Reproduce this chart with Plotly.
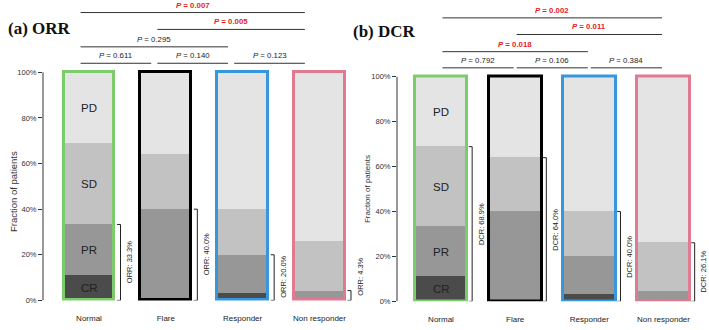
import plotly.graph_objects as go
import numpy as np

# ---------------- data ----------------
groups = ["Normal", "Flare", "Responder", "Non responder"]
CR = [11.1, 0.0, 3.3, 0.0]
PR = [22.2, 40.0, 16.7, 4.3]
SD = [35.6, 24.0, 20.0, 21.8]
PD = [31.1, 36.0, 60.0, 73.9]
ORR = [33.3, 40.0, 20.0, 4.3]
DCR = [68.9, 64.0, 40.0, 26.1]
seg_names = ["CR", "PR", "SD", "PD"]
tick_vals = [0, 20, 40, 60, 80, 100]
tick_text = ["0%", "20%", "40%", "60%", "80%", "100%"]

pairs = [(0, 1), (1, 2), (2, 3), (0, 2), (1, 3), (0, 3)]
pair_level = [0, 0, 0, 1, 2, 3]
orr_p = [0.611, 0.140, 0.123, 0.295, 0.005, 0.007]
dcr_p = [0.792, 0.106, 0.384, 0.018, 0.011, 0.002]
# ---------------------------------------

W, H = 709, 330
seg_colors = ["#4b4b4b", "#979797", "#c2c2c2", "#e4e4e4"]
border_colors = ["#7dcc6c", "#000000", "#3797dc", "#e07a90"]
FONT = "Liberation Sans, Arial, sans-serif"
levels = [104.0, 111.2, 118.85, 126.25]

segs = np.array([CR, PR, SD, PD])
bases = np.vstack([np.zeros(4), np.cumsum(segs, axis=0)[:-1]])
totals = segs.sum(axis=0)

fig = go.Figure()

panels = [
    dict(xa="x", ya="y", xname="xaxis", yname="yaxis", width=0.66,
         xdom=[43 / W, 363 / W], xr=[(43 - 89) / 76.83, (363 - 89) / 76.83],
         ydom=[1 - 305 / H, 1 - 4.05 / H],
         lab="ORR", vals=ORR, pvals=orr_p, off0=-0.11, off1=-0.19,
         br_off=0.41, title="(a) ORR", tx=6, ty=29, ytx=13, yty=195, ytsize=9.5),
    dict(xa="x2", ya="y2", xname="xaxis2", yname="yaxis2", width=0.71,
         xdom=[397 / W, 1.0], xr=[(397 - 441) / 74.17, (709 - 441) / 74.17],
         ydom=[1 - 306 / H, 1 - 9.6 / H],
         lab="DCR", vals=DCR, pvals=dcr_p, off0=0.02, off1=-0.02,
         br_off=0.42, title="(b) DCR", tx=351, ty=31.5, ytx=367, yty=192, ytsize=8),
]

shapes = []
annotations = []
xs = list(range(len(groups)))

for p in panels:
    for k in range(4):
        fig.add_trace(go.Bar(
            x=xs, y=segs[k], base=bases[k], width=p["width"],
            marker=dict(color=seg_colors[k], line=dict(width=0)),
            xaxis=p["xa"], yaxis=p["ya"], showlegend=False, name=seg_names[k]))
    fig.add_trace(go.Bar(
        x=xs, y=totals, base=np.zeros(4), width=p["width"],
        marker=dict(color="rgba(0,0,0,0)", line=dict(width=3, color=border_colors)),
        xaxis=p["xa"], yaxis=p["ya"], showlegend=False, name="border"))

    fig.update_layout({
        p["xname"]: dict(domain=p["xdom"], range=p["xr"], showline=False, showgrid=False,
                         zeroline=False, tickvals=xs, ticktext=groups, ticks="outside",
                         ticklen=10, tickcolor="rgba(0,0,0,0)",
                         tickfont=dict(family=FONT, size=8, color="#222"),
                         anchor=p["ya"]),
        p["yname"]: dict(domain=p["ydom"], range=[0, 130], showline=False, showgrid=False,
                         zeroline=False, tickvals=tick_vals, ticktext=tick_text,
                         ticks="outside", ticklen=4, tickcolor="#333", tickwidth=1,
                         tickfont=dict(family=FONT, size=7.5, color="#333"),
                         anchor=p["xa"]),
    })
    # y axis line only from 0 to 100
    shapes.append(dict(type="line", xref=p["xa"] + " domain", yref=p["ya"],
                       x0=0, x1=0, y0=0, y1=100, line=dict(color="#333", width=1)))

    # brackets
    for i, v in enumerate(p["vals"]):
        bx = i + p["br_off"]
        shapes.append(dict(type="line", xref=p["xa"], yref=p["ya"], x0=bx, x1=bx, y0=0, y1=v,
                           line=dict(color="#222", width=1)))
        for yy in (0, v):
            shapes.append(dict(type="line", xref=p["xa"], yref=p["ya"], x0=bx - 0.045, x1=bx,
                               y0=yy, y1=yy, line=dict(color="#222", width=1)))
        annotations.append(dict(xref=p["xa"], yref=p["ya"], x=bx + 0.12, y=max(v / 2, 10.5),
                                text=f"{p['lab']}: {v:.1f}%", textangle=-90, showarrow=False,
                                font=dict(family=FONT, size=7.5, color="#222")))

    # segment labels on first bar
    for k in range(4):
        annotations.append(dict(xref=p["xa"], yref=p["ya"], x=0, y=bases[k][0] + segs[k][0] / 2,
                                text=seg_names[k], showarrow=False,
                                font=dict(family=FONT, size=11.5, color="#222")))

    # p-value lines
    for (a, b), lv, pv in zip(pairs, pair_level, p["pvals"]):
        x0 = a + p["off0"]
        x1 = b + p["off1"]
        y = levels[lv]
        shapes.append(dict(type="line", xref=p["xa"], yref=p["ya"], x0=x0, x1=x1, y0=y, y1=y,
                           line=dict(color="#333", width=1)))
        sig = pv < 0.05
        txt = f"<i>P</i> = {pv:.3f}"
        if sig:
            txt = f"<b>{txt}</b>"
        annotations.append(dict(xref=p["xa"], yref=p["ya"], x=(x0 + x1) / 2, y=y,
                                yanchor="bottom", yshift=1, text=txt, showarrow=False,
                                font=dict(family=FONT, size=7.8,
                                          color="#e8201f" if sig else "#222")))

    # panel title
    annotations.append(dict(xref="paper", yref="paper", x=p["tx"] / W, y=1 - p["ty"] / H,
                            xanchor="left", yanchor="middle", text=f"<b>{p['title']}</b>",
                            showarrow=False,
                            font=dict(family="Liberation Serif, Times New Roman, serif",
                                      size=17, color="#111")))
    # y title
    annotations.append(dict(xref="paper", yref="paper", x=p["ytx"] / W, y=1 - p["yty"] / H,
                            xanchor="center", yanchor="middle", text="Fraction of patients",
                            textangle=-90, showarrow=False,
                            font=dict(family=FONT, size=p["ytsize"], color="#333")))

fig.update_layout(
    width=W, height=H, margin=dict(l=0, r=0, t=0, b=0),
    paper_bgcolor="white", plot_bgcolor="white",
    barmode="overlay", bargap=0,
    shapes=shapes, annotations=annotations,
)

fig.write_html("out.html")
